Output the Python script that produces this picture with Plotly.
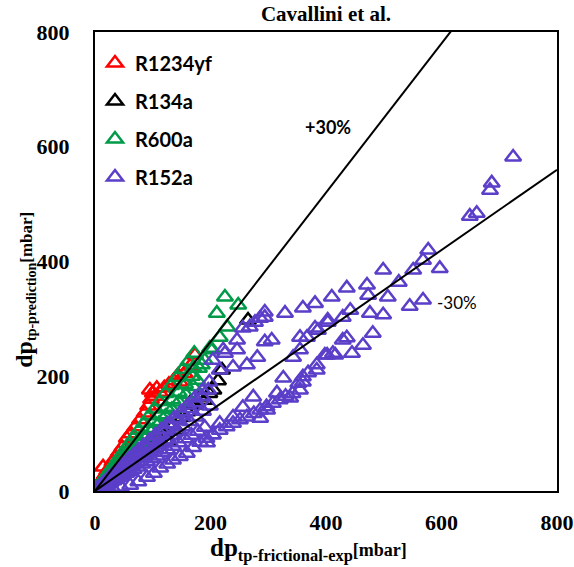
import plotly.graph_objects as go

# ---------------- data ----------------
# R1234yf (red)
r1234yf_x = [3, 6, 9, 12, 14, 17, 21, 25, 30, 35, 41, 47, 55, 62, 70, 78, 86, 92, 95, 97, 100, 104, 107, 112, 120, 128, 136, 142, 144, 147, 155, 165, 173]
r1234yf_y = [5, 10, 15, 20, 42, 28, 35, 40, 50, 58, 67, 76, 92, 100, 112, 124, 136, 148, 176, 160, 171, 165, 179, 172, 180, 186, 192, 199, 202, 190, 205, 218, 237]

# R134a (black)
r134a_x = [5, 10, 16, 22, 29, 36, 44, 52, 61, 70, 80, 90, 100, 110, 120, 126, 134, 142, 151, 160, 164, 172, 182, 190, 198, 205, 213, 220, 265]
r134a_y = [4, 8, 13, 18, 24, 30, 37, 44, 51, 59, 67, 76, 84, 93, 97, 85, 112, 106, 128, 138, 153, 150, 164, 158, 170, 176, 192, 211, 298]

# R600a (green)
r600a_top_x = [225, 248, 211, 229, 216, 199, 185, 177, 203, 190, 170]
r600a_top_y = [338, 324, 310, 286, 268, 249, 220, 193, 246, 228, 215]
r600a_a_x = [3, 6, 10, 14, 18, 23, 28, 34, 40, 46, 53, 60, 68, 76, 85, 94, 103, 112, 122, 132, 142, 152, 162, 172]
r600a_a_y = [4, 9, 14, 20, 25, 32, 39, 47, 56, 64, 74, 83, 95, 106, 118, 131, 143, 156, 170, 184, 198, 212, 226, 240]
r600a_b_x = [4, 8, 12, 17, 22, 28, 34, 41, 48, 56, 64, 73, 82, 92, 102, 112, 123, 134, 145, 156, 168, 180]
r600a_b_y = [5, 9, 14, 20, 26, 33, 40, 48, 56, 66, 75, 86, 97, 109, 121, 133, 146, 159, 172, 186, 200, 214]
r600a_c_x = [5, 10, 16, 22, 29, 36, 44, 52, 61, 70, 80, 90, 100, 111, 122, 133, 145, 157, 170]
r600a_c_y = [5, 11, 17, 23, 30, 38, 46, 55, 64, 74, 84, 95, 106, 118, 130, 142, 155, 168, 182]

# R152a (purple)
r152a_low_x = [8, 18, 30, 45, 61, 75, 90, 102, 113, 125, 135, 147, 159, 170, 182, 193, 204, 216, 228, 239, 251, 263, 275, 286, 297, 308, 320, 330, 342, 355]
r152a_low_y = [2, 3, 5, 7, 10, 16, 24, 31, 40, 47, 54, 60, 66, 76, 85, 92, 98, 106, 112, 118, 124, 129, 135, 141, 147, 153, 159, 165, 170, 176]
r152a_a_x = [3, 6, 9, 12, 15, 19, 23, 27, 32, 37, 42, 48, 54, 60, 67, 74, 82, 90, 98, 107, 116, 125, 135, 145, 156, 167, 178, 190]
r152a_a_y = [2, 3, 5, 7, 8, 10, 13, 15, 18, 21, 24, 27, 31, 34, 38, 42, 47, 51, 56, 61, 67, 72, 78, 84, 91, 97, 104, 111]
r152a_b_x = [4, 7, 11, 14, 18, 22, 26, 31, 36, 41, 47, 53, 59, 66, 73, 80, 88, 96, 105, 114, 123, 133, 143, 153, 164, 175, 187, 199]
r152a_b_y = [3, 5, 8, 10, 13, 15, 18, 22, 25, 29, 33, 37, 42, 47, 52, 57, 63, 69, 76, 82, 89, 97, 104, 112, 121, 129, 139, 148]
r152a_c_x = [3, 6, 9, 13, 17, 21, 25, 30, 35, 40, 46, 52, 58, 65, 72, 79, 87, 95, 104, 113, 122, 132, 142, 152, 163, 174, 185, 196]
r152a_c_y = [3, 5, 8, 11, 14, 18, 21, 25, 30, 34, 39, 44, 50, 56, 62, 68, 75, 82, 90, 98, 107, 116, 125, 134, 144, 154, 165, 176]
r152a_d_x = [5, 9, 14, 19, 24, 30, 36, 43, 50, 58, 66, 75, 84, 94, 104, 115, 126, 137, 149, 161, 173, 186, 198]
r152a_d_y = [5, 9, 13, 18, 23, 28, 34, 41, 47, 55, 62, 71, 79, 88, 97, 107, 117, 127, 138, 150, 162, 175, 190]
r152a_mid_x = [286, 294, 268, 329, 306, 294, 281, 263, 239, 216, 225, 246, 355, 381, 403, 429, 429, 412, 398, 343, 384, 360, 352, 326, 338, 298, 286, 274, 315, 256, 239, 216, 204, 194, 294, 277, 256, 246, 222, 204]
r152a_mid_y = [301, 303, 286, 310, 263, 260, 233, 220, 216, 211, 240, 246, 268, 284, 294, 303, 263, 240, 237, 233, 220, 199, 188, 197, 162, 141, 127, 164, 171, 146, 129, 118, 98, 84, 312, 294, 284, 263, 246, 228]
r152a_fan_x = [724, 687, 684, 649, 661, 577, 568, 597, 551, 499, 526, 471, 436, 473, 507, 410, 381, 360, 568, 545, 442, 476, 499, 403, 386, 367, 355, 481, 436, 464, 445, 416, 402, 384, 369, 360]
r152a_fan_y = [582, 537, 524, 479, 484, 420, 402, 388, 385, 385, 364, 359, 354, 341, 338, 338, 327, 319, 333, 322, 315, 310, 307, 298, 280, 268, 246, 275, 267, 254, 240, 237, 237, 211, 206, 190]

# +/-30% deviation lines
line_x = [0, 800]
plus30_y = [0, 1040]
minus30_y = [0, 560]

ticks = [0, 200, 400, 600, 800]

# ---------------- figure ----------------
RED = "#FF0000"
BLACK = "#000000"
GREEN = "#009A48"
PURPLE = "#5B3FC9"

def tri(name, xs, ys, color):
    return go.Scatter(
        x=xs, y=ys, mode="markers", name=name,
        marker=dict(symbol="triangle-up-open", size=14, color=color,
                    line=dict(width=2.5, color=color)),
        legendgroup=name,
    )

fig = go.Figure()
fig.add_trace(tri("R1234yf", r1234yf_x, r1234yf_y, RED))
fig.add_trace(tri("R134a", r134a_x, r134a_y, BLACK))
fig.add_trace(tri("R600a",
                  r600a_a_x + r600a_b_x + r600a_c_x + r600a_top_x,
                  r600a_a_y + r600a_b_y + r600a_c_y + r600a_top_y, GREEN))
fig.add_trace(tri("R152a",
                  r152a_low_x + r152a_a_x + r152a_b_x + r152a_c_x + r152a_d_x + r152a_mid_x + r152a_fan_x,
                  r152a_low_y + r152a_a_y + r152a_b_y + r152a_c_y + r152a_d_y + r152a_mid_y + r152a_fan_y, PURPLE))

for yy in (plus30_y, minus30_y):
    fig.add_trace(go.Scatter(x=line_x, y=yy, mode="lines", showlegend=False,
                             line=dict(color="black", width=2), hoverinfo="skip"))

serif = "Liberation Serif"
tickfont = dict(family=serif, size=22, color="black", weight="bold")

fig.update_xaxes(range=[0, 800], tickvals=ticks, showline=True, mirror=True,
                 linecolor="black", linewidth=2, showgrid=False, zeroline=False,
                 ticks="", tickfont=tickfont, ticklabelstandoff=11, automargin=False)
fig.update_yaxes(range=[0, 800], tickvals=ticks, showline=True, mirror=True,
                 linecolor="black", linewidth=2, showgrid=False, zeroline=False,
                 ticks="", tickfont=tickfont, ticklabelstandoff=19, automargin=False)

W, H = 574, 567
fig.update_layout(
    width=W, height=H,
    margin=dict(l=95, r=17, t=32, b=76, autoexpand=False),
    paper_bgcolor="white", plot_bgcolor="white",
    title=dict(text="Cavallini et al.", x=0.5, xref="paper",
               y=1 - 14 / H, yref="container", yanchor="middle",
               font=dict(family=serif, size=21, color="black", weight="bold")),
    legend=dict(x=0.0, y=0.975, xanchor="left", yanchor="top",
                font=dict(family="Lato", size=20, color="black", weight="bold"),
                tracegroupgap=9, bgcolor="rgba(0,0,0,0)", traceorder="grouped"),
    showlegend=True,
)

fig.add_annotation(x=403, y=634, xref="x", yref="y", text="<b>+30%</b>", showarrow=False,
                   font=dict(family="Lato", size=18, color="black"))
fig.add_annotation(x=627, y=329, xref="x", yref="y", text="-30%", showarrow=False,
                   font=dict(family="Lato", size=17, color="black"))

fig.add_annotation(x=0.463, y=-0.128, xref="paper", yref="paper", yanchor="middle", showarrow=False,
                   text="<b><span style='font-size:25px'>dp</span><sub>tp-frictional-exp</sub>"
                        "<span style='font-size:18px'>[mbar]</span></b>",
                   font=dict(family=serif, size=23.5, color="black"))
fig.add_annotation(x=-0.152, y=0.438, xref="paper", yref="paper", xanchor="center", showarrow=False,
                   textangle=-90,
                   text="<b><span style='font-size:24px'>dp</span><sub>tp-prediction</sub>"
                        "<span style='font-size:17px'>[mbar]</span></b>",
                   font=dict(family=serif, size=20, color="black"))

fig.write_html("out.html",
               config={"displayModeBar": False},
               post_script="document.body.style.margin='0px';document.body.style.overflow='hidden';")
